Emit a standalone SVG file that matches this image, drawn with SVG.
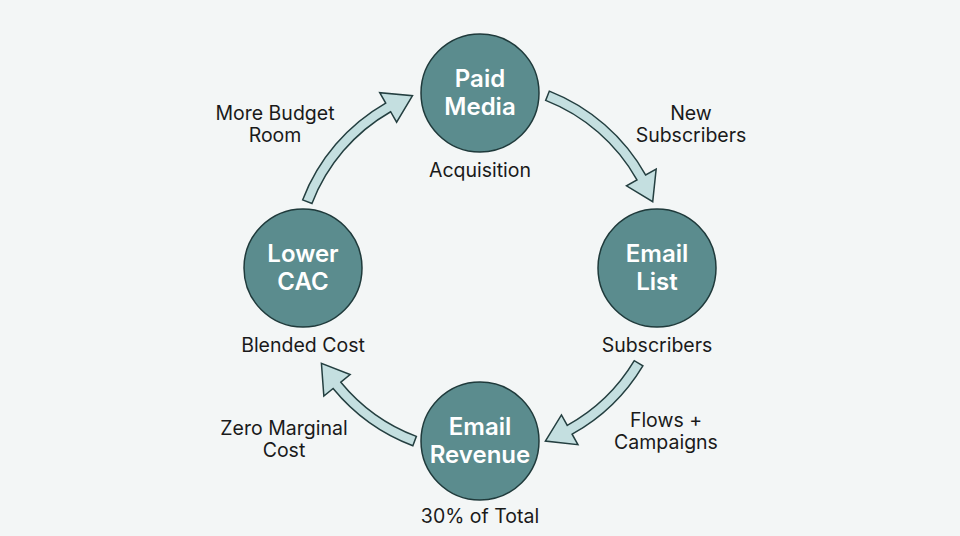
<svg xmlns="http://www.w3.org/2000/svg" width="960" height="536" viewBox="0 0 960 536">
<style>
.node{fill:#5b8c8e;stroke:#1f3a3b;stroke-width:1.5}
.nl{font-family:Inter,"Noto Sans",sans-serif;font-weight:600;font-size:24px;fill:#ffffff;text-anchor:middle}
.lb{font-family:Inter,"Noto Sans",sans-serif;font-weight:400;font-size:19.5px;fill:#1a1a1a;text-anchor:middle}
.arr{fill:#c4dfe0;stroke:#243f40;stroke-width:1.5;stroke-linejoin:miter}
</style>
<rect width="960" height="536" fill="#f3f6f6"/>
<g id="connectors">
<path class="arr" d="M549.33 91.10 A190 190 0 0 1 645.69 175.02 L656.16 169.15 L652.71 201.70 L626.51 185.78 L636.97 179.91 A180 180 0 0 0 545.68 100.41 Z"/>
<path class="arr" d="M642.86 365.86 A190 190 0 0 1 572.11 434.18 L577.93 444.67 L545.39 441.06 L561.45 414.94 L567.27 425.43 A180 180 0 0 0 634.29 360.71 Z"/>
<path class="arr" d="M412.84 445.73 A190 190 0 0 1 333.11 388.51 L323.84 396.12 L321.42 363.28 L350.12 374.56 L340.84 382.17 A180 180 0 0 0 416.38 436.38 Z"/>
<path class="arr" d="M302.62 199.91 A190 190 0 0 1 385.69 103.06 L379.73 92.64 L412.50 95.75 L396.61 122.16 L390.65 111.74 A180 180 0 0 0 311.96 203.49 Z"/>
<text class="lb" x="691" y="120">New</text>
<text class="lb" x="691" y="142">Subscribers</text>
<text class="lb" x="666" y="427">Flows +</text>
<text class="lb" x="666" y="449">Campaigns</text>
<text class="lb" x="284" y="435">Zero Marginal</text>
<text class="lb" x="284" y="457">Cost</text>
<text class="lb" x="275" y="120">More Budget</text>
<text class="lb" x="275" y="142">Room</text>
</g>
<g id="paid-media">
<circle class="node" cx="480" cy="93" r="59"/>
<text class="nl" x="480" y="87">Paid</text>
<text class="nl" x="480" y="115">Media</text>
<text class="lb" x="480" y="177">Acquisition</text>
</g>
<g id="email-list">
<circle class="node" cx="657" cy="268" r="59"/>
<text class="nl" x="657" y="262">Email</text>
<text class="nl" x="657" y="290">List</text>
<text class="lb" x="657" y="352">Subscribers</text>
</g>
<g id="email-revenue">
<circle class="node" cx="480" cy="441" r="59"/>
<text class="nl" x="480" y="435">Email</text>
<text class="nl" x="480" y="463">Revenue</text>
<text class="lb" x="480" y="523">30% of Total</text>
</g>
<g id="lower-cac">
<circle class="node" cx="303" cy="268" r="59"/>
<text class="nl" x="303" y="262">Lower</text>
<text class="nl" x="303" y="290">CAC</text>
<text class="lb" x="303" y="352">Blended Cost</text>
</g>
</svg>
